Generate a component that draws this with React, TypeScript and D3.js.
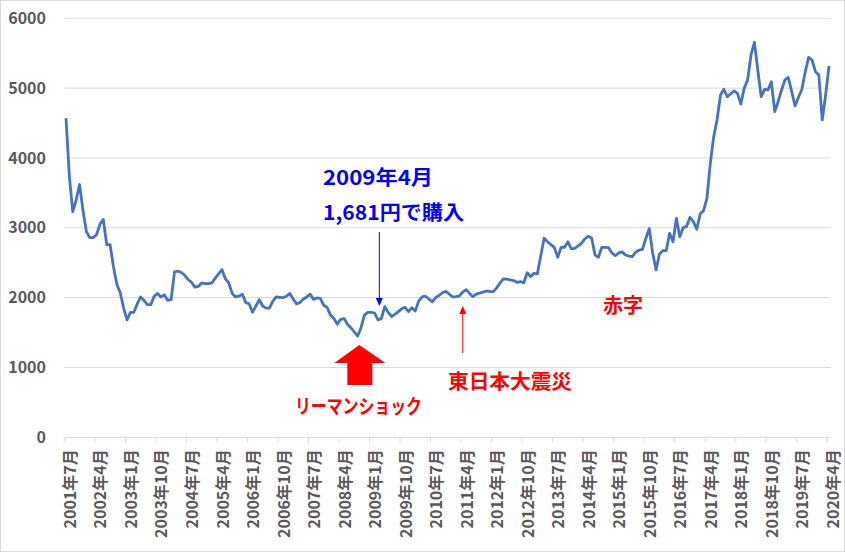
import React from 'react'
import * as d3 from 'd3'

// monthly close, 2001年7月 .. 2020年4月 (226 months)
const prices: number[] = [
  4570, 3730, 3230, 3400, 3620, 3250, 2950, 2860, 2860, 2900,
  3050, 3120, 2760, 2760, 2440, 2190, 2070, 1850, 1680, 1790,
  1790, 1910, 2010, 1960, 1900, 1900, 2020, 2060, 2010, 2040,
  1960, 1970, 2370, 2380, 2360, 2320, 2260, 2220, 2150, 2160,
  2210, 2200, 2200, 2210, 2280, 2340, 2400, 2270, 2210, 2060,
  2010, 2020, 2050, 1930, 1910, 1790, 1880, 1970, 1880, 1850,
  1850, 1950, 2010, 2005, 2000, 2020, 2060, 1980, 1910, 1930,
  1980, 2010, 2050, 1975, 1995, 1990, 1890, 1860, 1750, 1700,
  1620, 1690, 1700, 1620, 1570, 1510, 1450, 1570, 1750, 1790,
  1790, 1780, 1681, 1700, 1870, 1790, 1730, 1760, 1800, 1840,
  1862, 1800, 1855, 1810, 1950, 2010, 2020, 1980, 1940, 2000,
  2030, 2070, 2090, 2052, 2010, 2015, 2025, 2080, 2115, 2060,
  2014, 2050, 2065, 2080, 2095, 2088, 2085, 2140, 2210, 2270,
  2265, 2253, 2245, 2220, 2228, 2214, 2357, 2300, 2348, 2340,
  2600, 2850, 2800, 2760, 2720, 2578, 2720, 2720, 2800, 2700,
  2706, 2740, 2778, 2840, 2880, 2855, 2611, 2578, 2721, 2721,
  2715, 2640, 2600, 2640, 2655, 2611, 2595, 2587, 2650, 2682,
  2690, 2850, 2990, 2640, 2396, 2625, 2672, 2672, 2921, 2800,
  3136, 2873, 3000, 3020, 3151, 3088, 2979, 3198, 3245, 3423,
  3924, 4305, 4550, 4902, 4983, 4877, 4920, 4959, 4926, 4773,
  5000, 5117, 5475, 5657, 5260, 4877, 4983, 4974, 5092, 4663,
  4806, 4974, 5117, 5155, 4950, 4745, 4870, 4983, 5236, 5441,
  5403, 5236, 5188, 4544, 4902, 5317,
]

// one label every 9 months
const tickLabels: string[] = [
  '2001年7月', '2002年4月', '2003年1月', '2003年10月', '2004年7月',
  '2005年4月', '2006年1月', '2006年10月', '2007年7月', '2008年4月',
  '2009年1月', '2009年10月', '2010年7月', '2011年4月', '2012年1月',
  '2012年10月', '2013年7月', '2014年4月', '2015年1月', '2015年10月',
  '2016年7月', '2017年4月', '2018年1月', '2018年10月', '2019年7月',
  '2020年4月',
]
const tickStep = 9
const yTicks: number[] = [0, 1000, 2000, 3000, 4000, 5000, 6000]

// month indexes the notes point at
const buyIndex = 92.4      // 2009年4月 購入
const lehmanIndex = 86.5   // リーマンショック
const quakeIndex = 117     // 東日本大震災

const W = 845
const H = 552
const font = '"Noto Sans CJK JP", "Noto Sans", sans-serif'

export default function App() {
  const left = 64.3
  const right = 830.7
  const top = 18.3
  const bottom = 437.3

  const x = d3.scaleBand<number>()
    .domain(d3.range(prices.length))
    .range([left, right])
  const bw = x.bandwidth()
  const cx = (i: number) => left + bw * (i + 0.5)

  const y = d3.scaleLinear().domain([0, 6000]).range([bottom, top])

  const line = d3.line<number>()
    .x((_, i) => cx(i))
    .y(d => y(d))

  const ticks = tickLabels.map((label, k) => ({ label, i: k * tickStep }))

  // big red block arrow under the Lehman low
  const ax = cx(lehmanIndex)
  const blockArrow = [
    [ax, 345], [ax + 26, 363], [ax + 13, 363], [ax + 13, 385],
    [ax - 12, 385], [ax - 12, 363], [ax - 25, 363],
  ].map(p => p.join(',')).join(' ')

  const bx = cx(buyIndex)
  const qx = cx(quakeIndex)

  return (
    <svg width={W} height={H} style={{ position: 'absolute', left: 0, top: 0, background: '#fff' }}
      fontFamily={font}>
      <rect x={0.5} y={0.5} width={W - 1} height={H - 1} fill="#fff" stroke="#d9d9d9" />

      {/* grid */}
      {yTicks.map(t => (
        <g key={t}>
          <line x1={left} x2={right} y1={y(t)} y2={y(t)} stroke="#d9d9d9" strokeWidth={1} />
          <text x={46} y={y(t)} dy="0.35em" textAnchor="end" fontSize={16} fontWeight="bold"
            fill="#595959">{t}</text>
        </g>
      ))}

      {/* x ticks + rotated labels */}
      {ticks.map(t => (
        <g key={t.label}>
          <line x1={x(t.i)} x2={x(t.i)} y1={bottom} y2={bottom + 5} stroke="#d9d9d9" />
          <text transform={`translate(${x(t.i)! + 6},${bottom + 12}) rotate(-90)`}
            dy="0.35em" textAnchor="end" fontSize={16} fontWeight="bold" fill="#595959">
            {t.label}
          </text>
        </g>
      ))}

      <path d={line(prices) ?? ''} fill="none" stroke="#4472c4" strokeWidth={2.8}
        strokeLinejoin="round" />

      {/* purchase note */}
      <text x={323} y={178} dy="0.35em" fontSize={20} fontWeight="bold" fill="#0000ff"
        textLength={110} lengthAdjust="spacingAndGlyphs">2009年4月</text>
      <text x={323} y={213} dy="0.35em" fontSize={20} fontWeight="bold" fill="#0000ff"
        textLength={141} lengthAdjust="spacingAndGlyphs">1,681円で購入</text>
      <line x1={bx} x2={bx} y1={232} y2={299} stroke="#0000ff" strokeWidth={1} />
      <polygon points={`${bx},306 ${bx - 3.5},298 ${bx + 3.5},298`} fill="#0000ff" />

      {/* Lehman */}
      <polygon points={blockArrow} fill="#ff0000" />
      <text x={295} y={407} dy="0.35em" fontSize={20} fontWeight="bold" fill="#ff0000"
        textLength={127} lengthAdjust="spacingAndGlyphs">リーマンショック</text>

      {/* earthquake */}
      <line x1={qx} x2={qx} y1={353} y2={313} stroke="#ff0000" strokeWidth={1} />
      <polygon points={`${qx},306 ${qx - 3.5},314 ${qx + 3.5},314`} fill="#ff0000" />
      <text x={448} y={382} dy="0.35em" fontSize={20} fontWeight="bold" fill="#ff0000"
        textLength={124} lengthAdjust="spacingAndGlyphs">東日本大震災</text>

      <text x={603} y={306} dy="0.35em" fontSize={20} fontWeight="bold" fill="#ff0000">赤字</text>
    </svg>
  )
}
